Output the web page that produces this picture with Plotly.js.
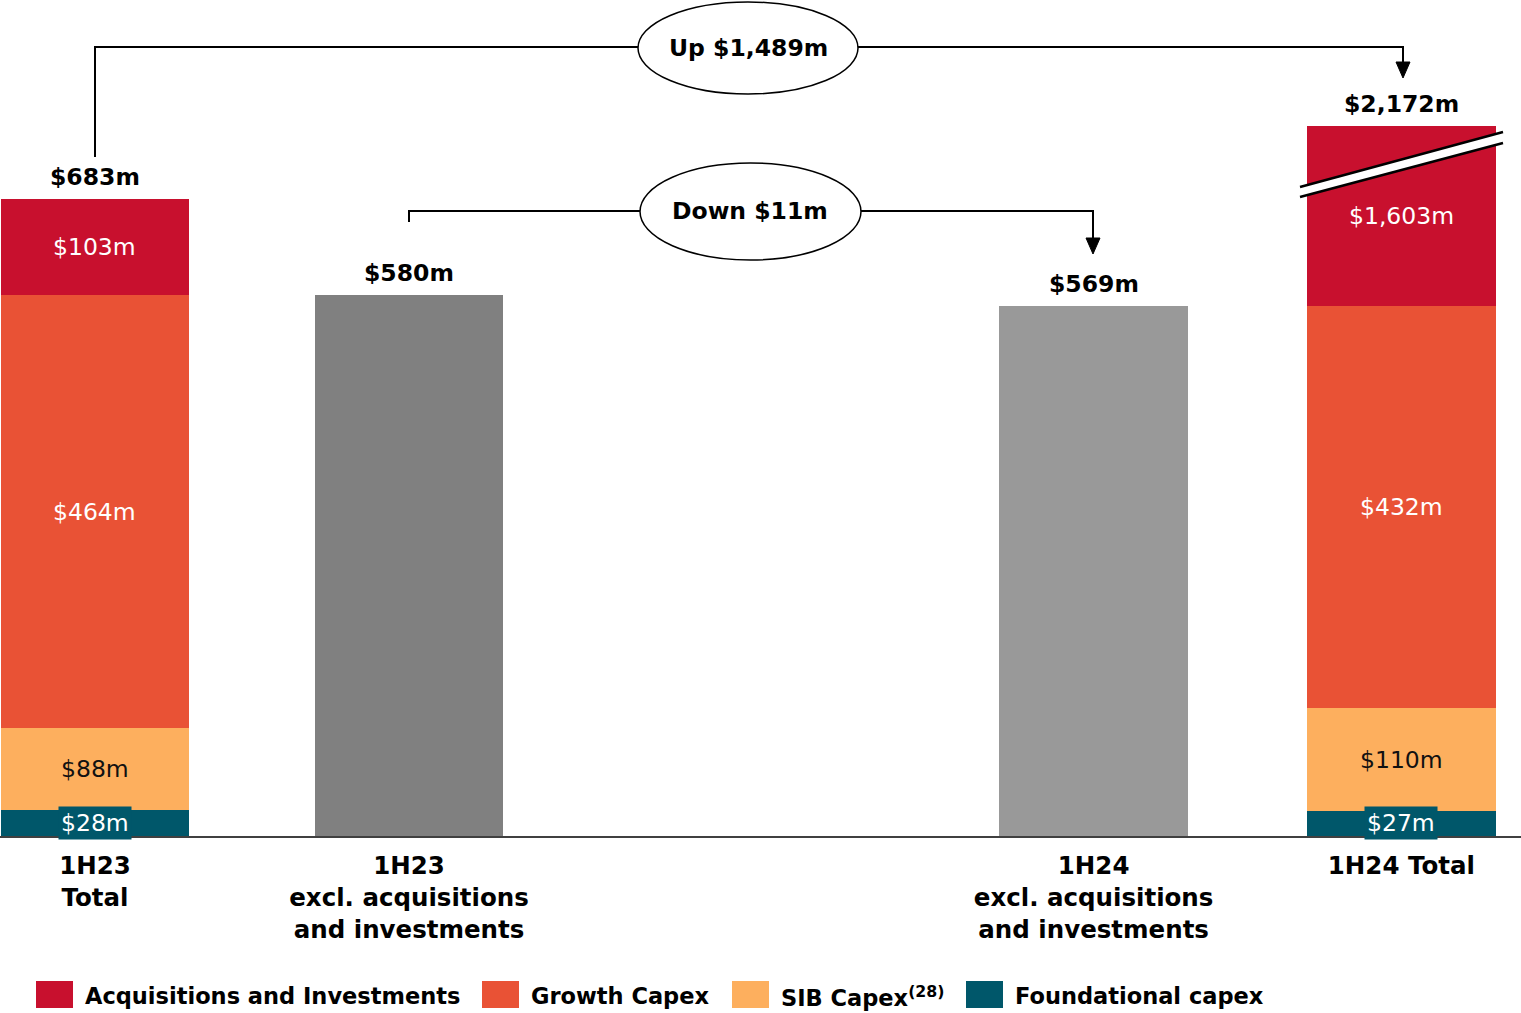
<!DOCTYPE html>
<html>
<head>
<meta charset="utf-8">
<script src="https://cdn.plot.ly/plotly-3.0.1.min.js"></script>
<style>html,body{margin:0;padding:0;background:#fff;}#chart{width:1521px;height:1013px;}</style>
</head>
<body>
<div id="chart"></div>
<script>
// ---- data ----
const categories = ["1H23<br>Total", "1H23<br>excl. acquisitions<br>and investments", "1H24<br>excl. acquisitions<br>and investments", "1H24 Total"];
const seriesNames = ["Acquisitions and Investments", "Growth Capex", "SIB Capex<sup>(28)</sup>", "Foundational capex"];
const foundational = [28, null, null, 27];
const sibCapex = [88, null, null, 110];
const growthCapex = [464, null, null, 432];
const acquisitions = [103, null, null, 1603];
// broken axis: the $1,603m segment is drawn compressed
const acquisitionsDrawn = [103, null, null, 193];
const exclAcquisitions = [null, 580, 569, null];
const totals = [683, 580, 569, 2172];
const changeUp = "Up $1,489m";
const changeDown = "Down $11m";

// ---- layout helpers ----
const xPos = [0, 1, 3.18, 4.16];
const colors = {acq: "#C8102E", growth: "#E95235", sib: "#FDAF5E", found: "#00576A", grey1: "#808080", grey2: "#999999"};
const W = 1521, PH = 836;
const px = x => x / W;
const py = y => (PH - y) / PH;
const FONT = "DejaVu Sans, Liberation Sans, Arial, sans-serif";
const FS = 23.5;
const fmt = v => v == null ? "" : "$" + String(v).replace(/\B(?=(\d{3})+(?!\d))/g, ",") + "m";

const barBase = {type: "bar", x: xPos, width: 0.6, showlegend: false, hoverinfo: "skip", textposition: "none"};

const traces = [
  Object.assign({}, barBase, {name: seriesNames[3], y: foundational, marker: {color: colors.found, line: {width: 0}}}),
  Object.assign({}, barBase, {name: seriesNames[2], y: sibCapex, marker: {color: colors.sib, line: {width: 0}}}),
  Object.assign({}, barBase, {name: seriesNames[1], y: growthCapex, marker: {color: colors.growth, line: {width: 0}}}),
  Object.assign({}, barBase, {name: seriesNames[0], y: acquisitionsDrawn, marker: {color: colors.acq, line: {width: 0}}}),
  Object.assign({}, barBase, {name: "excl. acquisitions and investments", y: exclAcquisitions, marker: {color: [null, colors.grey1, colors.grey2, null], line: {width: 0}}})
];

const annotations = [];
// segment labels (centered in each stacked segment)
[[foundational, foundational, "#fff", colors.found], [sibCapex, sibCapex, "#111", null], [growthCapex, growthCapex, "#fff", null], [acquisitions, acquisitionsDrawn, "#fff", null]]
  .forEach(([vals, drawn, fc, bg], k, all) => {
    vals.forEach((v, i) => {
      if (v == null) return;
      let base = 0;
      for (let j = 0; j < k; j++) base += all[j][1][i];
      const a = {x: xPos[i], y: base + drawn[i] / 2, xref: "x", yref: "y", text: fmt(v), showarrow: false,
        xanchor: "center", yanchor: "middle", font: {family: FONT, size: FS, color: fc}};
      if (bg) { a.bgcolor = bg; a.borderpad = 2; }
      annotations.push(a);
    });
  });
// totals above bars
totals.forEach((t, i) => {
  const top = exclAcquisitions[i] != null ? exclAcquisitions[i] :
    foundational[i] + sibCapex[i] + growthCapex[i] + acquisitionsDrawn[i];
  annotations.push({x: xPos[i], y: top, xref: "x", yref: "y", text: "<b>" + fmt(t) + "</b>", showarrow: false,
    xanchor: "center", yanchor: "bottom", yshift: 6, font: {family: FONT, size: FS, color: "#000"}});
});
// change bubbles text
annotations.push({x: px(748), y: py(48), xref: "paper", yref: "paper", xanchor: "center", yanchor: "middle", text: "<b>" + changeUp + "</b>", showarrow: false, font: {family: FONT, size: FS, color: "#000"}});
annotations.push({x: px(750), y: py(211), xref: "paper", yref: "paper", xanchor: "center", yanchor: "middle", text: "<b>" + changeDown + "</b>", showarrow: false, font: {family: FONT, size: FS, color: "#000"}});

const shapes = [];
const P = (x, y) => `${px(x)},${py(y)}`;
shapes.push({type: "path", xref: "paper", yref: "paper", path: `M${P(95,157)} L${P(95,47)} L${P(1403,47)} L${P(1403,64)}`, line: {color: "#000", width: 2}});
shapes.push({type: "path", xref: "paper", yref: "paper", path: `M${P(409,222)} L${P(409,211)} L${P(1093,211)} L${P(1093,240)}`, line: {color: "#000", width: 2}});
// arrowheads
shapes.push({type: "path", xref: "paper", yref: "paper", path: `M${P(1396,62)} L${P(1410,62)} L${P(1403,78)} Z`, fillcolor: "#000", line: {color: "#000", width: 1}});
shapes.push({type: "path", xref: "paper", yref: "paper", path: `M${P(1086,238)} L${P(1100,238)} L${P(1093,254)} Z`, fillcolor: "#000", line: {color: "#000", width: 1}});
// bubbles
shapes.push({type: "circle", xref: "paper", yref: "paper", x0: px(638), x1: px(858), y0: py(94), y1: py(2), fillcolor: "#fff", line: {color: "#000", width: 1.5}});
shapes.push({type: "circle", xref: "paper", yref: "paper", x0: px(640), x1: px(861), y0: py(260), y1: py(163), fillcolor: "#fff", line: {color: "#000", width: 1.5}});
// axis break marks
shapes.push({type: "path", xref: "paper", yref: "paper", path: `M${P(1300,187)} L${P(1503,132)} L${P(1503,143)} L${P(1300,197)} Z`, fillcolor: "#fff", line: {width: 0}});
shapes.push({type: "line", xref: "paper", yref: "paper", x0: px(1300), y0: py(187), x1: px(1503), y1: py(132), line: {color: "#000", width: 2.5}});
shapes.push({type: "line", xref: "paper", yref: "paper", x0: px(1300), y0: py(197), x1: px(1503), y1: py(143), line: {color: "#000", width: 2.5}});

// custom legend
const legendColors = [colors.acq, colors.growth, colors.sib, colors.found];
const legendX = [36, 482, 732, 966];
seriesNames.forEach((n, i) => {
  shapes.push({type: "rect", xref: "paper", yref: "paper", x0: px(legendX[i]), x1: px(legendX[i] + 37), y0: py(1008), y1: py(981), fillcolor: legendColors[i], line: {width: 0}});
  annotations.push({x: px(legendX[i] + 47), y: py(996), xref: "paper", yref: "paper", xanchor: "left", yanchor: "middle", text: "<b>" + n + "</b>", showarrow: false, font: {family: FONT, size: 22.5, color: "#000"}});
});

const layout = {
  width: 1521, height: 1013,
  margin: {l: 0, r: 0, t: 0, b: 177, pad: 0},
  paper_bgcolor: "#fff", plot_bgcolor: "#fff",
  barmode: "stack", showlegend: false,
  xaxis: {range: [-0.3025, 4.541], tickvals: xPos, ticktext: categories, showgrid: false, zeroline: false,
    showline: true, linecolor: "#404040", linewidth: 1.5, ticks: "", layer: "below traces", ticklabelstandoff: 7,
    tickfont: {family: FONT, size: 24.5, color: "#000", weight: "bold"}, fixedrange: true},
  yaxis: {range: [0, 897], visible: false, showgrid: false, zeroline: false, fixedrange: true},
  annotations: annotations, shapes: shapes,
  font: {family: FONT}
};
Plotly.newPlot("chart", traces, layout, {displayModeBar: false, staticPlot: true}).then(() => {
  // drop empty placeholder/measurement text nodes left by the library
  document.querySelectorAll("text").forEach(t => { if (!t.textContent.trim()) t.remove(); });
});
</script>
</body>
</html>
